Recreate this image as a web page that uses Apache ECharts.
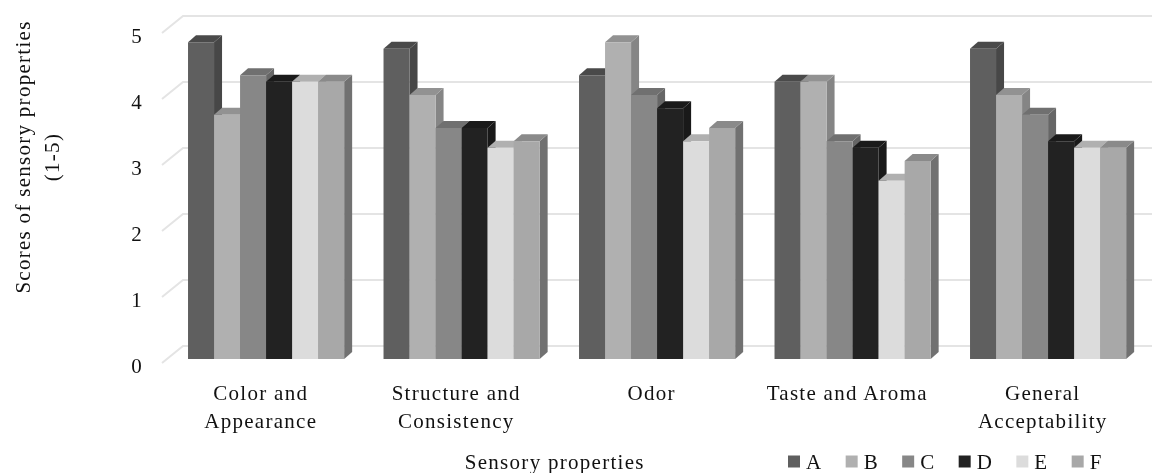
<!DOCTYPE html>
<html><head><meta charset="utf-8">
<style>html,body{margin:0;padding:0;background:#fff}#c{width:1152px;height:473px;filter:blur(0.5px)}
#c svg text{letter-spacing:1.28px}</style>
<script src="https://cdn.jsdelivr.net/npm/echarts@6/dist/echarts.min.js"></script>
</head><body><div id="c"></div>
<script>
const categories = ['Color and\nAppearance','Structure and\nConsistency','Odor','Taste and Aroma','General\nAcceptability'];
const seriesNames = ['A','B','C','D','E','F'];
const A = [4.8,4.7,4.3,4.2,4.7];
const B = [3.7,4.0,4.8,4.2,4.0];
const C = [4.3,3.5,4.0,3.3,3.7];
const D = [4.2,3.5,3.8,3.2,3.3];
const E = [4.2,3.2,3.3,2.7,3.2];
const F = [4.2,3.3,3.5,3.0,3.2];
const values = [A,B,C,D,E,F];
const ticks = [0,1,2,3,4,5];
const front = ['#5f5f5f','#b0b0b0','#878787','#222222','#dcdcdc','#a8a8a8'];
const topC  = ['#4a4a4a','#929292','#707070','#1a1a1a','#b0b0b0','#8a8a8a'];
const sideC = ['#474747','#858585','#666666','#191919','#a5a5a5','#717171'];
const serif = '"Liberation Serif","Times New Roman",serif';
const dx = 8, dy = 7;

function barSeries(idx){
  return {
    name: seriesNames[idx], type:'custom', z:3+idx, clip:false,
    itemStyle:{color:front[idx]},
    data: values[idx].map((v,i)=>[i,v]),
    encode:{x:0,y:1},
    renderItem(params,api){
      const p = api.coord([api.value(0),api.value(1)]);
      const base = api.coord([api.value(0),0]);
      const band = api.size([1,0])[0];
      const w = band*0.1331;
      const x0 = p[0]-band*0.372+idx*w, x1 = x0+w, y0 = p[1], yb = base[1];
      return {type:'group',children:[
        {type:'polygon',shape:{points:[[x1,y0],[x1+dx,y0-dy],[x1+dx,yb-dy],[x1,yb]]},style:{fill:sideC[idx]}},
        {type:'polygon',shape:{points:[[x0,y0],[x0+dx,y0-dy],[x1+dx,y0-dy],[x1,y0]]},style:{fill:topC[idx]}},
        {type:'rect',shape:{x:x0,y:y0,width:w,height:yb-y0},style:{fill:front[idx]}}
      ]};
    }
  };
}

const wall = {
  type:'custom', z:1, clip:false, silent:true, legendHoverLink:false,
  data: ticks.map(t=>[0,t]), encode:{y:1},
  renderItem(params,api){
    const y = api.coord([0,api.value(1)])[1];
    const left = params.coordSys.x;
    return {type:'polyline',shape:{points:[[left-1,y+4],[left+20,y-13],[1152,y-13]]},
      style:{fill:'none',stroke:'#e4e4e4',lineWidth:2}};
  }
};

const chart = echarts.init(document.getElementById('c'),null,{renderer:'svg'});
chart.setOption({
  animation:false,
  backgroundColor:'#fff',
  grid:{left:163,top:29,width:977.5,height:330,containLabel:false,outerBoundsMode:'none'},
  legend:{
    data:seriesNames, left:783, top:446, itemWidth:12, itemHeight:12, itemGap:24.5, icon:'rect',
    textStyle:{fontFamily:serif,fontSize:21,color:'#111',padding:[0,0,0,1]}
  },
  xAxis:{
    type:'category', data:categories,
    axisLine:{show:false}, axisTick:{show:false}, splitLine:{show:false},
    axisLabel:{fontFamily:serif,fontSize:21,color:'#111',lineHeight:28,margin:20,interval:0},
    name:'Sensory properties', nameLocation:'middle', nameGap:92,
    nameTextStyle:{fontFamily:serif,fontSize:21,color:'#111',padding:[0,0,0,-194]}
  },
  yAxis:{
    type:'value', min:0, max:5, interval:1,
    axisLine:{show:false}, axisTick:{show:false}, splitLine:{show:false},
    axisLabel:{fontFamily:serif,fontSize:21,color:'#111',margin:20,verticalAlign:'top',lineHeight:14},
    name:'Scores of sensory properties\n(1-5)', nameLocation:'middle', nameGap:97,
    nameTextStyle:{fontFamily:serif,fontSize:21,color:'#111',lineHeight:29,padding:[0,0,0,74]}
  },
  series:[wall].concat(seriesNames.map((n,i)=>barSeries(i)))
});
</script></body></html>
